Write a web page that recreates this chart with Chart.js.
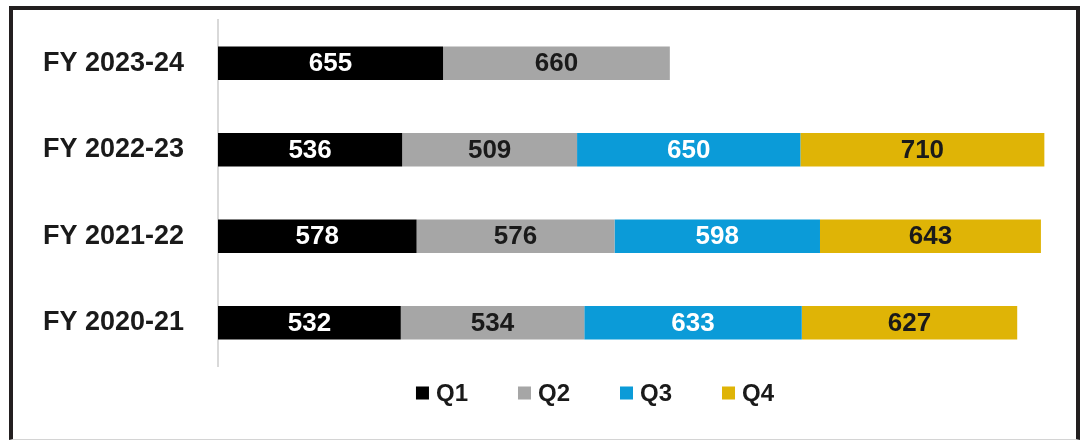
<!DOCTYPE html>
<html>
<head>
<meta charset="utf-8">
<script src="https://cdn.jsdelivr.net/npm/chart.js@4"></script>
<style>
  html, body { margin: 0; padding: 0; background: #fff; }
  #wrap { position: relative; width: 1081px; height: 441px; overflow: hidden; }
  #frame {
    position: absolute; left: 9px; top: 6px; width: 1071px; height: 434px;
    box-sizing: border-box; pointer-events: none;
    border-left: 4px solid #231f20; border-top: 4px solid #231f20;
    border-right: 4px solid #231f20; border-bottom: 1px solid #d4d4d4;
  }
  canvas { position: absolute; left: 0; top: 0; }
</style>
</head>
<body>
<div id="wrap">
  <canvas id="chart" width="1081" height="441"></canvas>
  <div id="frame"></div>
</div>
<script>
// data
const years = ['FY 2023-24', 'FY 2022-23', 'FY 2021-22', 'FY 2020-21'];
const quarters = ['Q1', 'Q2', 'Q3', 'Q4'];
const q1 = [655, 536, 578, 532];
const q2 = [660, 509, 576, 534];
const q3 = [null, 650, 598, 633];
const q4 = [null, 710, 643, 627];

const colors = ['#000000', '#a6a6a6', '#0b9bd8', '#dfb406'];
const labelColors = ['#ffffff', '#1a1a1a', '#ffffff', '#1a1a1a'];
const FONT = '"Liberation Sans", Arial, sans-serif';

const barLabels = {
  id: 'barLabels',
  afterDatasetsDraw(chart) {
    const ctx = chart.ctx;
    ctx.save();
    ctx.font = 'bold 26px ' + FONT;
    ctx.textAlign = 'center';
    ctx.textBaseline = 'middle';
    chart.data.datasets.forEach((ds, di) => {
      const meta = chart.getDatasetMeta(di);
      meta.data.forEach((bar, i) => {
        const v = ds.data[i];
        if (v == null) return;
        ctx.fillStyle = labelColors[di];
        ctx.fillText(String(v), (bar.x + bar.base) / 2, bar.y + 1);
      });
    });
    ctx.restore();
  }
};

// legend drawn by hand so the spacing can match the picture
const bottomLegend = {
  id: 'bottomLegend',
  afterDraw(chart) {
    const ctx = chart.ctx;
    const box = 13, gap = 7, space = 50;
    const cx = 595, cy = 393;
    ctx.save();
    ctx.font = 'bold 24px ' + FONT;
    ctx.textBaseline = 'middle';
    const sets = chart.data.datasets;
    const widths = sets.map(ds => box + gap + ctx.measureText(ds.label).width);
    const total = widths.reduce((a, b) => a + b, 0) + space * (sets.length - 1);
    let x = cx - total / 2;
    sets.forEach((ds, i) => {
      ctx.fillStyle = ds.backgroundColor;
      ctx.fillRect(x, cy - box / 2, box, box);
      ctx.fillStyle = '#1a1a1a';
      ctx.fillText(ds.label, x + box + gap, cy + 1);
      x += widths[i] + space;
    });
    ctx.restore();
  }
};

const series = [q1, q2, q3, q4];

new Chart(document.getElementById('chart'), {
  type: 'bar',
  data: {
    labels: years,
    datasets: quarters.map((q, i) => ({
      label: q,
      data: series[i],
      backgroundColor: colors[i],
      borderWidth: 0,
      categoryPercentage: 1,
      barPercentage: 0.39
    }))
  },
  options: {
    indexAxis: 'y',
    responsive: false,
    animation: false,
    layout: { padding: { left: 8, right: 4, top: 20, bottom: 75 } },
    plugins: {
      legend: { display: false },
      tooltip: { enabled: false }
    },
    scales: {
      x: {
        stacked: true,
        min: 0,
        max: 2500,
        display: false
      },
      y: {
        stacked: true,
        afterFit(axis) {
          axis.width = 210;
          axis.paddingTop = 0;
          axis.paddingBottom = 0;
        },
        grid: { display: false },
        border: { display: true, color: '#d9d9d9', width: 2 },
        ticks: {
          padding: 26,
          color: '#1a1a1a',
          font: { family: FONT, size: 27, weight: 'bold' }
        }
      }
    }
  },
  plugins: [barLabels, bottomLegend]
});
</script>
</body>
</html>
